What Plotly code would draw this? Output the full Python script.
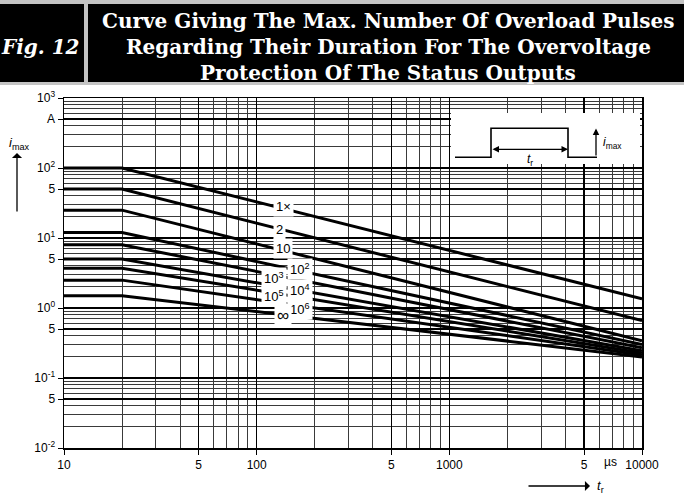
import plotly.graph_objects as go

# ---------------- data ----------------
curve_labels = ["1×", "2", "10", "10<sup>2</sup>", "10<sup>3</sup>",
                "10<sup>4</sup>", "10<sup>5</sup>", "10<sup>6</sup>", "∞"]
t_points = [10, 20, 10000]                       # µs: start, knee, end
i_flat = [100, 50, 25, 12, 8, 5, 3.7, 2.5, 1.5]  # A, plateau (t <= 20 µs)
i_end = [1.35, 0.66, 0.34, 0.30, 0.27, 0.245, 0.227, 0.213, 0.20]  # A at 10000 µs

x_tickvals = [10, 50, 100, 500, 1000, 5000, 10000]
x_ticktext = ["10", "5", "100", "5", "1000", "5", "10000"]
y_tickvals = [0.01, 0.05, 0.1, 0.5, 1, 5, 10, 50, 100, 500, 1000]
y_ticktext = ["10<sup>-2</sup>", "5", "10<sup>-1</sup>", "5", "10<sup>0</sup>", "5",
              "10<sup>1</sup>", "5", "10<sup>2</sup>", "A", "10<sup>3</sup>"]

title_lines = ["Curve Giving The Max. Number Of Overload Pulses",
               "Regarding Their Duration For The Overvoltage",
               "Protection Of The Status Outputs"]
fig_label = "Fig. 12"

# ---------------- layout geometry (pixels) ----------------
W, H = 684, 496
L, R, T, B = 64, 642, 98, 448


def PX(px):
    return (px - L) / (R - L)


def PY(py):
    return (B - py) / (B - T)


x_minor = [m * d for d in (10, 100, 1000) for m in (2, 3, 4, 6, 7, 8, 9)]
y_minor = [m * d for d in (0.01, 0.1, 1, 10, 100) for m in (2, 3, 4, 6, 7, 8, 9)]

fig = go.Figure()
for k in range(len(curve_labels)):
    fig.add_trace(go.Scatter(
        x=t_points, y=[i_flat[k], i_flat[k], i_end[k]], mode="lines",
        line=dict(color="black", width=3), showlegend=False, hoverinfo="skip"))

sans = "Liberation Sans, Arial, sans-serif"
serif = "DejaVu Serif, serif"

fig.update_xaxes(type="log", range=[1, 4], tickmode="array", tickvals=x_tickvals,
                 ticktext=x_ticktext, ticks="outside", ticklen=5, tickcolor="black",
                 showgrid=True, gridcolor="black", gridwidth=1.6,
                 showline=True, linecolor="black", linewidth=1.5, mirror=True,
                 minor=dict(tickmode="array", tickvals=x_minor, showgrid=True,
                            gridcolor="#3a3a3a", gridwidth=1, ticks=""),
                 tickfont=dict(family=sans, size=12, color="black"), zeroline=False)
fig.update_yaxes(type="log", range=[-2, 3], tickmode="array", tickvals=y_tickvals,
                 ticktext=y_ticktext, ticks="outside", ticklen=5, tickcolor="black",
                 showgrid=True, gridcolor="black", gridwidth=1.6,
                 showline=True, linecolor="black", linewidth=1.5, mirror=True,
                 minor=dict(tickmode="array", tickvals=y_minor, showgrid=True,
                            gridcolor="#3a3a3a", gridwidth=1, ticks=""),
                 tickfont=dict(family=sans, size=12, color="black"), zeroline=False)

shapes = []
# header
shapes.append(dict(type="rect", xref="paper", yref="paper", x0=PX(0), x1=PX(W),
                   y0=PY(85), y1=PY(0), fillcolor="#c4c4c4", line_width=0, layer="above"))
shapes.append(dict(type="rect", xref="paper", yref="paper", x0=PX(0), x1=PX(W),
                   y0=PY(82), y1=PY(4), fillcolor="black", line_width=0, layer="above"))
shapes.append(dict(type="rect", xref="paper", yref="paper", x0=PX(84), x1=PX(88),
                   y0=PY(82), y1=PY(4), fillcolor="#c4c4c4", line_width=0, layer="above"))
# inset white box
shapes.append(dict(type="rect", xref="paper", yref="paper", x0=PX(451), x1=PX(640),
                   y0=PY(164), y1=PY(113), fillcolor="white", line_width=0, layer="above"))
# pulse
pts = [(455, 157.3), (491, 157.3), (491, 128.3), (568, 128.3), (568, 157.3), (597, 157.3)]
path = "M " + " L ".join(f"{PX(a)},{PY(b)}" for a, b in pts)
shapes.append(dict(type="path", xref="paper", yref="paper", path=path,
                   line=dict(color="black", width=1.6), layer="above"))
fig.update_layout(shapes=shapes)

ann = []
for i, line in enumerate(title_lines):
    ann.append(dict(xref="paper", yref="paper", x=PX(388), y=PY(21 + 26 * i),
                    text=f"<b>{line}</b>", showarrow=False, xanchor="center", yanchor="middle",
                    font=dict(family=serif, size=20, color="white")))
ann.append(dict(xref="paper", yref="paper", x=PX(40), y=PY(47), text=f"<b><i>{fig_label}</i></b>",
                showarrow=False, xanchor="center", yanchor="middle",
                font=dict(family=serif, size=20, color="white")))

# curve labels (positions in pixels)
label_pos = [(283, 206), (279, 229), (283, 249), (300, 269), (274, 278),
             (300, 290), (274, 296), (300, 309), (283, 315)]
for k, (a, b) in enumerate(label_pos):
    size = 17 if curve_labels[k] == "∞" else 13
    ann.append(dict(xref="paper", yref="paper", x=PX(a), y=PY(b), text=curve_labels[k],
                    showarrow=False, xanchor="center", yanchor="middle", bgcolor="white",
                    borderpad=2, font=dict(family=sans, size=size, color="black")))

# axis quantity labels
ann.append(dict(xref="paper", yref="paper", x=PX(19), y=PY(143), text="<i>i</i><sub>max</sub>",
                showarrow=False, xanchor="center", yanchor="middle",
                font=dict(family=sans, size=13, color="black")))
ann.append(dict(xref="paper", yref="paper", x=PX(17), y=PY(153), text="", showarrow=True,
                ax=0, ay=60, arrowhead=1, arrowsize=1.3, arrowwidth=1.3, arrowcolor="black"))
ann.append(dict(xref="paper", yref="paper", x=PX(610), y=PY(462), text="µs",
                showarrow=False, xanchor="center", yanchor="middle",
                font=dict(family=sans, size=12, color="black")))
ann.append(dict(xref="paper", yref="paper", x=PX(590), y=PY(486), text="", showarrow=True,
                ax=-63, ay=0, arrowhead=1, arrowsize=1.3, arrowwidth=1.3, arrowcolor="black"))
ann.append(dict(xref="paper", yref="paper", x=PX(595), y=PY(486), text="<i>t</i><sub>r</sub>",
                showarrow=False, xanchor="left", yanchor="middle",
                font=dict(family=sans, size=13, color="black")))
# inset annotations
ann.append(dict(xref="paper", yref="paper", x=PX(568), y=PY(149.3), text="", showarrow=True,
                ax=-77, ay=0, arrowhead=2, startarrowhead=2, arrowside="end+start",
                arrowsize=1, arrowwidth=1.3, arrowcolor="black"))
ann.append(dict(xref="paper", yref="paper", x=PX(530), y=PY(160), text="<i>t</i><sub>r</sub>",
                showarrow=False, xanchor="center", yanchor="middle",
                font=dict(family=sans, size=12, color="black")))
ann.append(dict(xref="paper", yref="paper", x=PX(596), y=PY(128.5), text="", showarrow=True,
                ax=0, ay=28.5, arrowhead=2, arrowsize=1, arrowwidth=1.3, arrowcolor="black"))
ann.append(dict(xref="paper", yref="paper", x=PX(601), y=PY(143), text="<i>i</i><sub>max</sub>",
                showarrow=False, xanchor="left", yanchor="middle",
                font=dict(family=sans, size=12, color="black")))

fig.update_layout(annotations=ann, width=W, height=H,
                  margin=dict(l=L, r=W - R, t=T, b=H - B, autoexpand=False),
                  paper_bgcolor="white", plot_bgcolor="white", showlegend=False,
                  hovermode=False)

fig.write_html("out.html", config={"displayModeBar": False, "staticPlot": True},
               post_script="document.body.style.margin='0';document.body.style.padding='0';"
                           "document.body.style.overflow='hidden';")
